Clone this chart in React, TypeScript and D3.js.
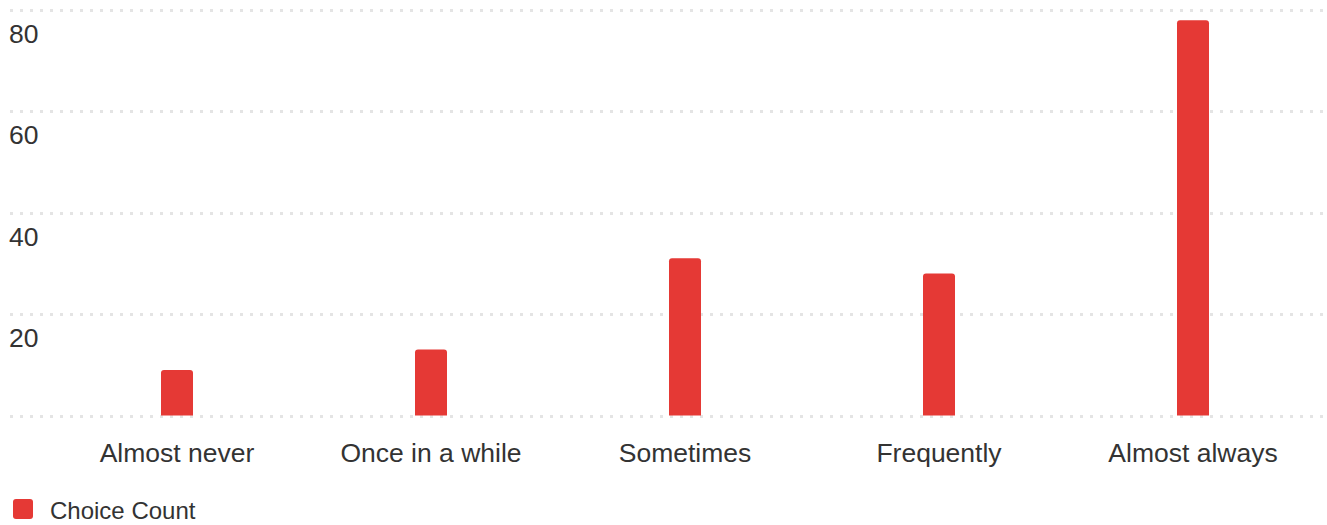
import React from "react";
import * as d3 from "d3";

const categories = ["Almost never", "Once in a while", "Sometimes", "Frequently", "Almost always"];
const values = [9, 13, 31, 28, 78];
const yTicks = [20, 40, 60, 80];
const seriesName = "Choice Count";

const W = 1327;
const H = 525;
const FONT = "'Liberation Sans', Arial, Helvetica, sans-serif";
const RED = "#e53935";

export default function App() {
  const x = d3.scaleBand<string>().domain(categories).range([50, 1320]).padding(0);
  const y = d3.scaleLinear().domain([0, 80]).range([415.5, 10]);
  const barW = 32;
  const r = 3;
  const barPath = (cx: number, top: number, bottom: number) => {
    const x0 = cx - barW / 2;
    const x1 = cx + barW / 2;
    const p = d3.path();
    p.moveTo(x0, bottom);
    p.lineTo(x0, top + r);
    p.quadraticCurveTo(x0, top, x0 + r, top);
    p.lineTo(x1 - r, top);
    p.quadraticCurveTo(x1, top, x1, top + r);
    p.lineTo(x1, bottom);
    p.closePath();
    return p.toString();
  };
  return (
    <svg width={W} height={H} style={{ position: "absolute", left: 0, top: 0, display: "block" }}>
      <rect width={W} height={H} fill="#fff" />
      {[0, ...yTicks].map((t) => (
        <line
          key={"g" + t}
          x1={10}
          x2={1327}
          y1={Math.round(y(t)) + 0.5}
          y2={Math.round(y(t)) + 0.5}
          stroke="#e4e4e4"
          strokeWidth={3}
          strokeDasharray="3 7"
        />
      ))}
      {yTicks.map((t) => (
        <text key={"t" + t} x={9} y={y(t) + 33} fontFamily={FONT} fontSize={26.5} fill="#333">
          {t}
        </text>
      ))}
      {categories.map((c, i) => {
        const cx = (x(c) as number) + x.bandwidth() / 2;
        return (
          <g key={c}>
            <path d={barPath(cx, y(values[i]), y(0))} fill={RED} />
            <text x={cx} y={462} textAnchor="middle" fontFamily={FONT} fontSize={26.5} fill="#333">
              {c}
            </text>
          </g>
        );
      })}
      <rect x={13} y={499} width={20} height={20} rx={3} fill={RED} />
      <text x={50} y={519} fontFamily={FONT} fontSize={24} fill="#333">
        {seriesName}
      </text>
    </svg>
  );
}
